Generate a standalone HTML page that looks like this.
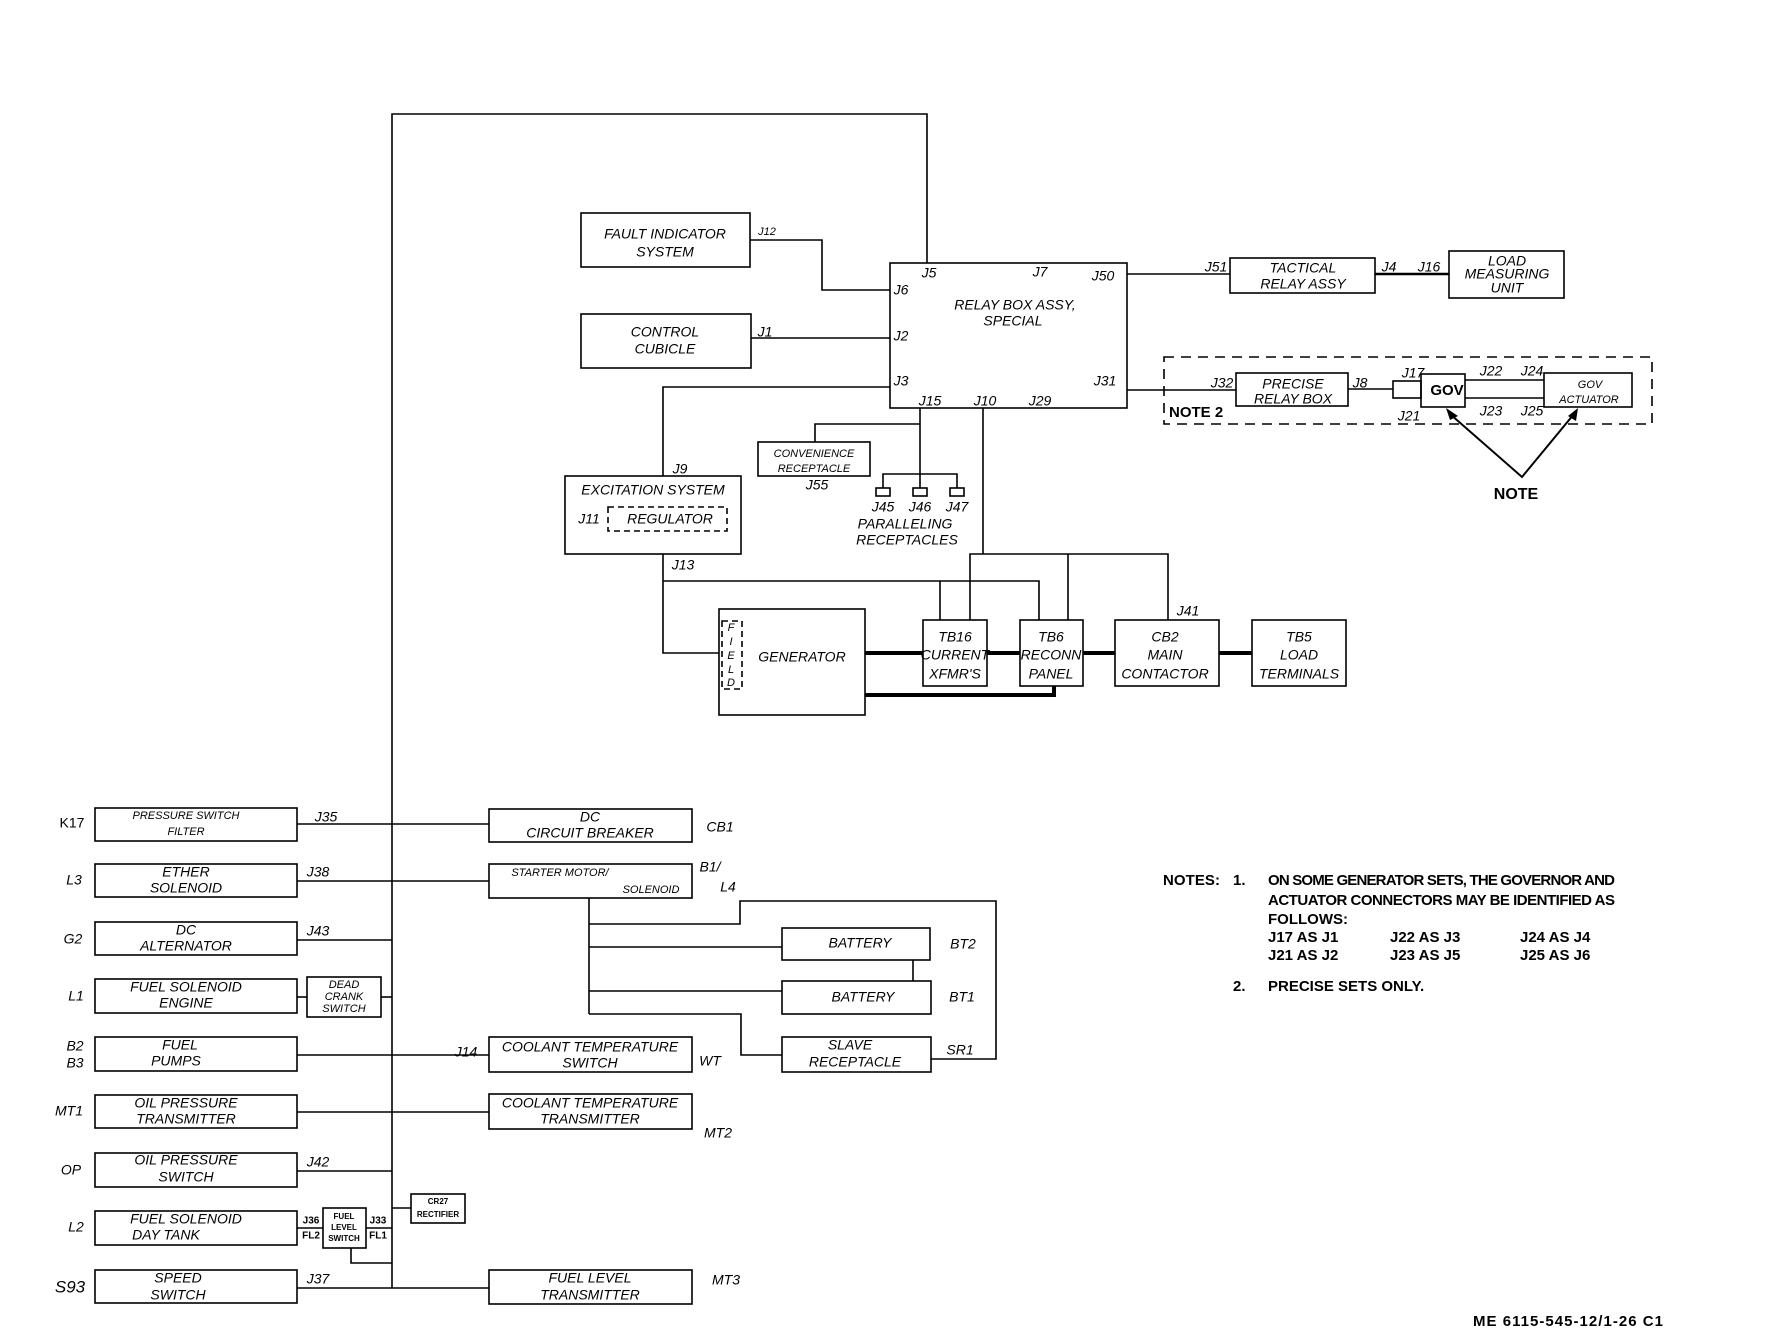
<!DOCTYPE html>
<html><head><meta charset="utf-8"><style>
html,body{margin:0;padding:0;background:#fff;}
svg{display:block;}
.t{font-family:"Liberation Sans",sans-serif;font-style:italic;font-size:14px;fill:#000;text-anchor:middle;dominant-baseline:middle;}
.s{font-size:11px;}
.xs{font-size:8px;font-style:normal;font-weight:bold;}
.b{font-family:"Liberation Sans Narrow","Liberation Sans",sans-serif;font-style:normal;font-weight:bold;font-size:15px;fill:#000;dominant-baseline:middle;}
</style></head><body>
<svg width="1777" height="1340" viewBox="0 0 1777 1340" xmlns="http://www.w3.org/2000/svg">
<g fill="none" stroke="#000" stroke-width="1.6">
<!-- outer loop -->
<polyline points="392,1288 392,114 927,114 927,263"/>
<rect x="581" y="213" width="169" height="54"/>
<polyline points="750,240 822,240 822,290 890,290"/>
<rect x="581" y="314" width="170" height="54"/>
<line x1="751" y1="338" x2="890" y2="338"/>
<rect x="890" y="263" width="237" height="145"/>
<polyline points="890,387 663,387 663,476"/>
<rect x="565" y="476" width="176" height="78"/>
<rect x="608" y="507" width="119" height="24" stroke-dasharray="6,4"/>
<polyline points="663,554 663,653 719,653"/>
<polyline points="663,581 1039,581 1039,620"/>
<line x1="940" y1="581" x2="940" y2="620"/>
<rect x="719" y="609" width="146" height="106"/>
<rect x="722" y="621" width="20" height="68" stroke-dasharray="6,4"/>
<rect x="758" y="442" width="112" height="34"/>
<polyline points="815,442 815,424 920,424"/>
<line x1="920" y1="408" x2="920" y2="488"/>
<polyline points="883,488 883,474 957,474 957,488"/>
<rect x="876" y="488" width="14" height="8"/>
<rect x="913" y="488" width="14" height="8"/>
<rect x="950" y="488" width="14" height="8"/>
<line x1="983" y1="408" x2="983" y2="554"/>
<polyline points="970,620 970,554 1168,554 1168,620"/>
<line x1="1068" y1="554" x2="1068" y2="620"/>
<rect x="923" y="620" width="64" height="66"/>
<rect x="1020" y="620" width="63" height="66"/>
<rect x="1115" y="620" width="104" height="66"/>
<rect x="1252" y="620" width="94" height="66"/>
<line x1="1127" y1="274" x2="1230" y2="274"/>
<rect x="1230" y="258" width="145" height="35"/>
<rect x="1449" y="251" width="115" height="47"/>
<rect x="1164" y="357" width="488" height="67" stroke-dasharray="10,7"/>
<line x1="1127" y1="390" x2="1236" y2="390"/>
<rect x="1236" y="373" width="112" height="33"/>
<line x1="1348" y1="389" x2="1393" y2="389"/>
<rect x="1393" y="381" width="28" height="17"/>
<rect x="1421" y="374" width="44" height="33"/>
<line x1="1465" y1="380" x2="1544" y2="380"/>
<line x1="1465" y1="398" x2="1544" y2="398"/>
<rect x="1544" y="373" width="88" height="34"/>
<polyline points="1450,414 1522,477 1574,414" stroke-width="2"/>
<!-- bottom left boxes -->
<rect x="95" y="808" width="202" height="33"/>
<rect x="95" y="864" width="202" height="33"/>
<rect x="95" y="922" width="202" height="33"/>
<rect x="95" y="979" width="202" height="34"/>
<rect x="95" y="1037" width="202" height="34"/>
<rect x="95" y="1095" width="202" height="33"/>
<rect x="95" y="1153" width="202" height="34"/>
<rect x="95" y="1211" width="202" height="34"/>
<rect x="95" y="1270" width="202" height="33"/>
<rect x="307" y="977" width="74" height="40"/>
<rect x="323" y="1208" width="43" height="40"/>
<rect x="411" y="1194" width="54" height="29"/>
<line x1="297" y1="824" x2="489" y2="824"/>
<line x1="297" y1="881" x2="489" y2="881"/>
<line x1="297" y1="940" x2="392" y2="940"/>
<line x1="297" y1="997" x2="307" y2="997"/>
<line x1="381" y1="997" x2="392" y2="997"/>
<line x1="297" y1="1055" x2="489" y2="1055"/>
<line x1="297" y1="1112" x2="489" y2="1112"/>
<line x1="297" y1="1171" x2="392" y2="1171"/>
<line x1="297" y1="1228" x2="323" y2="1228"/>
<line x1="366" y1="1228" x2="392" y2="1228"/>
<line x1="392" y1="1208" x2="411" y2="1208"/>
<polyline points="351,1248 351,1263 392,1263"/>
<line x1="297" y1="1288" x2="489" y2="1288"/>
<!-- right boxes -->
<rect x="489" y="809" width="203" height="33"/>
<rect x="489" y="864" width="203" height="34"/>
<rect x="489" y="1037" width="203" height="35"/>
<rect x="489" y="1094" width="203" height="35"/>
<rect x="489" y="1270" width="203" height="34"/>
<line x1="589" y1="898" x2="589" y2="1014"/>
<polyline points="589,924 740,924 740,901 996,901 996,1059 931,1059"/>
<line x1="589" y1="947" x2="782" y2="947"/>
<line x1="589" y1="991" x2="782" y2="991"/>
<polyline points="589,1014 741,1014 741,1055 782,1055"/>
<rect x="782" y="928" width="148" height="32"/>
<rect x="782" y="981" width="149" height="33"/>
<line x1="913" y1="960" x2="913" y2="981"/>
<rect x="782" y="1037" width="149" height="35"/>
</g>
<g fill="none" stroke="#000" stroke-width="4">
<line x1="865" y1="653" x2="923" y2="653"/>
<line x1="987" y1="653" x2="1020" y2="653"/>
<line x1="1083" y1="653" x2="1115" y2="653"/>
<line x1="1219" y1="653" x2="1252" y2="653"/>
<polyline points="865,695 1054,695 1054,686"/>
<line x1="1375" y1="274" x2="1449" y2="274" stroke-width="2.5"/>
</g>
<polygon points="1446,408 1458,416 1450,420" fill="#000"/>
<polygon points="1578,408 1576,421 1568,416" fill="#000"/>
<g class="t">
<text x="665" y="235">FAULT INDICATOR</text><text x="665" y="253">SYSTEM</text>
<text x="767" y="232" class="s">J12</text>
<text x="665" y="333">CONTROL</text><text x="665" y="350">CUBICLE</text>
<text x="765" y="333">J1</text>
<text x="929" y="274">J5</text><text x="1040" y="273">J7</text><text x="1103" y="277">J50</text>
<text x="901" y="291">J6</text><text x="901" y="337">J2</text><text x="901" y="382">J3</text>
<text x="1105" y="382">J31</text>
<text x="930" y="402">J15</text><text x="985" y="402">J10</text><text x="1040" y="402">J29</text>
<text x="1015" y="306">RELAY BOX ASSY,</text><text x="1013" y="322">SPECIAL</text>
<text x="680" y="470">J9</text>
<text x="653" y="491">EXCITATION SYSTEM</text>
<text x="589" y="520">J11</text><text x="670" y="520">REGULATOR</text>
<text x="683" y="566">J13</text>
<text x="731" y="628" class="s">F</text><text x="731" y="642" class="s">I</text><text x="731" y="656" class="s">E</text><text x="731" y="670" class="s">L</text><text x="731" y="683" class="s">D</text>
<text x="802" y="658">GENERATOR</text>
<text x="814" y="454" class="s">CONVENIENCE</text><text x="814" y="469" class="s">RECEPTACLE</text>
<text x="817" y="486">J55</text>
<text x="883" y="508">J45</text><text x="920" y="508">J46</text><text x="957" y="508">J47</text>
<text x="905" y="525">PARALLELING</text><text x="907" y="541">RECEPTACLES</text>
<text x="1188" y="612">J41</text>
<text x="955" y="638">TB16</text><text x="955" y="656">CURRENT</text><text x="955" y="675">XFMR'S</text>
<text x="1051" y="638">TB6</text><text x="1051" y="656">RECONN</text><text x="1051" y="675">PANEL</text>
<text x="1165" y="638">CB2</text><text x="1165" y="656">MAIN</text><text x="1165" y="675">CONTACTOR</text>
<text x="1299" y="638">TB5</text><text x="1299" y="656">LOAD</text><text x="1299" y="675">TERMINALS</text>
<text x="1216" y="268">J51</text>
<text x="1303" y="269">TACTICAL</text><text x="1303" y="285">RELAY ASSY</text>
<text x="1389" y="268">J4</text><text x="1429" y="268">J16</text>
<text x="1507" y="262">LOAD</text><text x="1507" y="275">MEASURING</text><text x="1507" y="289">UNIT</text>
<text x="1222" y="384">J32</text>
<text x="1293" y="385">PRECISE</text><text x="1293" y="400">RELAY BOX</text>
<text x="1360" y="384">J8</text><text x="1413" y="374">J17</text><text x="1409" y="417">J21</text>
<text x="1491" y="372">J22</text><text x="1532" y="372">J24</text>
<text x="1491" y="412">J23</text><text x="1532" y="412">J25</text>
<text x="1590" y="385" class="s">GOV</text><text x="1589" y="400" class="s">ACTUATOR</text>
<text x="186" y="816" class="s">PRESSURE SWITCH</text><text x="186" y="832" class="s">FILTER</text>
<text x="186" y="873">ETHER</text><text x="186" y="889">SOLENOID</text>
<text x="186" y="931">DC</text><text x="186" y="947">ALTERNATOR</text>
<text x="186" y="988">FUEL SOLENOID</text><text x="186" y="1004">ENGINE</text>
<text x="180" y="1046">FUEL</text><text x="176" y="1062">PUMPS</text>
<text x="186" y="1104">OIL PRESSURE</text><text x="186" y="1120">TRANSMITTER</text>
<text x="186" y="1161">OIL PRESSURE</text><text x="186" y="1178">SWITCH</text>
<text x="186" y="1220">FUEL SOLENOID</text><text x="166" y="1236">DAY TANK</text>
<text x="178" y="1279">SPEED</text><text x="178" y="1296">SWITCH</text>
<text x="344" y="985" class="s">DEAD</text><text x="344" y="997" class="s">CRANK</text><text x="344" y="1009" class="s">SWITCH</text>
<text x="344" y="1217" class="xs">FUEL</text><text x="344" y="1228" class="xs">LEVEL</text><text x="344" y="1239" class="xs">SWITCH</text>
<text x="438" y="1202" class="xs">CR27</text><text x="438" y="1215" class="xs">RECTIFIER</text>
<text x="311" y="1221" class="xs" style="font-size:10px">J36</text><text x="311" y="1236" class="xs" style="font-size:10px">FL2</text>
<text x="378" y="1221" class="xs" style="font-size:10px">J33</text><text x="378" y="1236" class="xs" style="font-size:10px">FL1</text>
<text x="326" y="818">J35</text><text x="318" y="873">J38</text><text x="318" y="932">J43</text>
<text x="318" y="1163">J42</text><text x="318" y="1280">J37</text><text x="466" y="1053">J14</text>
<text x="72" y="824" style="font-style:normal">K17</text><text x="74" y="881">L3</text>
<text x="73" y="940">G2</text><text x="76" y="997">L1</text>
<text x="75" y="1047">B2</text><text x="75" y="1064">B3</text>
<text x="69" y="1112">MT1</text><text x="71" y="1171">OP</text>
<text x="76" y="1228">L2</text><text x="70" y="1288" style="font-size:17px">S93</text>
<text x="590" y="818">DC</text><text x="590" y="834">CIRCUIT BREAKER</text>
<text x="560" y="873" class="s">STARTER MOTOR/</text><text x="651" y="890" class="s">SOLENOID</text>
<text x="590" y="1048">COOLANT TEMPERATURE</text><text x="590" y="1064">SWITCH</text>
<text x="590" y="1104">COOLANT TEMPERATURE</text><text x="590" y="1120">TRANSMITTER</text>
<text x="590" y="1279">FUEL LEVEL</text><text x="590" y="1296">TRANSMITTER</text>
<text x="860" y="944">BATTERY</text><text x="863" y="998">BATTERY</text>
<text x="850" y="1046">SLAVE</text><text x="855" y="1063">RECEPTACLE</text>
<text x="720" y="828">CB1</text><text x="710" y="868">B1/</text><text x="728" y="888">L4</text>
<text x="710" y="1062">WT</text><text x="718" y="1134">MT2</text><text x="726" y="1281">MT3</text>
<text x="963" y="945">BT2</text><text x="962" y="998">BT1</text><text x="960" y="1051">SR1</text>
</g>
<g class="b">
<text x="1447" y="391" text-anchor="middle">GOV</text>
<text x="1169" y="413">NOTE 2</text>
<text x="1516" y="495" text-anchor="middle" style="font-size:16px">NOTE</text>
<text x="1163" y="881" textLength="57">NOTES:</text>
<text x="1233" y="881">1.</text>
<text x="1268" y="881" textLength="347">ON SOME GENERATOR SETS, THE GOVERNOR AND</text>
<text x="1268" y="901" textLength="347">ACTUATOR CONNECTORS MAY BE IDENTIFIED AS</text>
<text x="1268" y="920">FOLLOWS:</text>
<text x="1268" y="938">J17 AS J1</text><text x="1390" y="938">J22 AS J3</text><text x="1520" y="938">J24 AS J4</text>
<text x="1268" y="956">J21 AS J2</text><text x="1390" y="956">J23 AS J5</text><text x="1520" y="956">J25 AS J6</text>
<text x="1233" y="987">2.</text><text x="1268" y="987">PRECISE SETS ONLY.</text>
<text x="1473" y="1322" textLength="190">ME 6115-545-12/1-26 C1</text>
</g>
</svg>
</body></html>
